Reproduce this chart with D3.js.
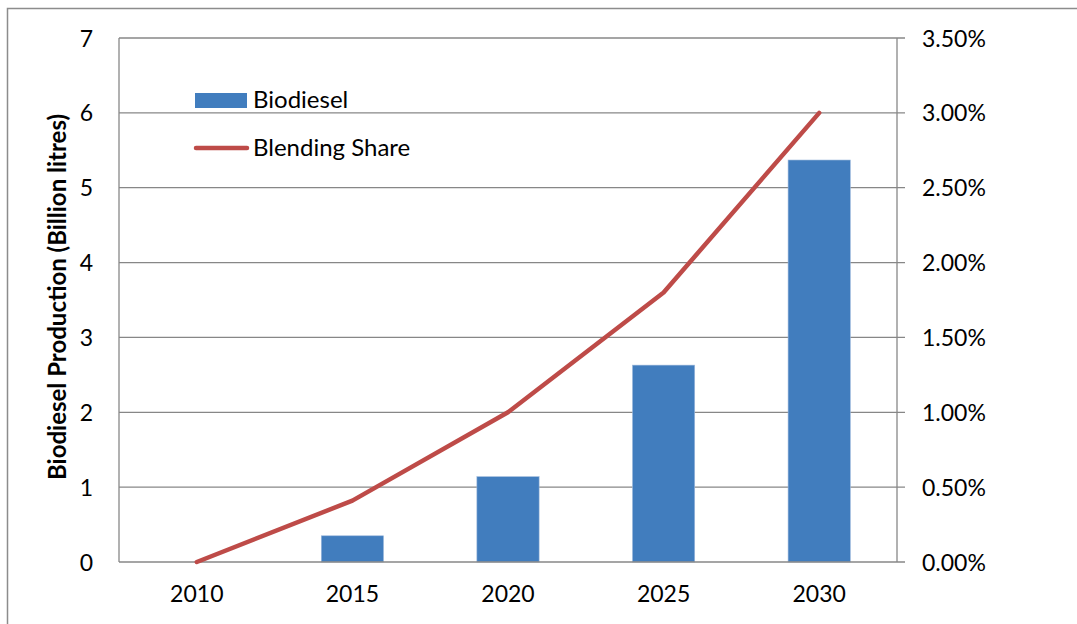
<!DOCTYPE html>
<html><head><meta charset="utf-8">
<script src="https://cdn.jsdelivr.net/npm/d3@7"></script>
<style>
html,body{margin:0;padding:0;background:#fff;}
svg text{font-family:Lato,"Open Sans",sans-serif;fill:#000;}
</style></head>
<body>
<svg id="c" width="1077" height="624"></svg>
<script>
const years = ["2010","2015","2020","2025","2030"];
const biodiesel = [0, 0.35, 1.14, 2.63, 5.37];
const blendingShare = [0.0, 0.0041, 0.0100, 0.0180, 0.0300];
const leftTicks = [0,1,2,3,4,5,6,7];
const rightTicks = [0,0.005,0.01,0.015,0.02,0.025,0.03,0.035];
const seriesNames = ["Biodiesel","Blending Share"];
const yTitle = "Biodiesel Production (Billion litres)";

const svg = d3.select("#c");
const L = 119, R = 897, T = 38, B = 562;
const grid = "#878787";
const barColor = "#417DBE";
const lineColor = "#BE4B48";

// outer frame
svg.append("rect").attr("x",7.5).attr("y",8.5).attr("width",1100).attr("height",700)
  .attr("fill","none").attr("stroke","#8c8c8c").attr("stroke-width",1.5);

const x = d3.scaleBand().domain(years).range([L,R]).paddingInner(0.6).paddingOuter(0.3);
const yL = d3.scaleLinear().domain([0,7]).range([B,T]);
const yR = d3.scaleLinear().domain([0,0.035]).range([B,T]);

// gridlines
svg.append("g").selectAll("line").data(leftTicks.filter(d=>d>0)).join("line")
  .attr("x1",L).attr("x2",R+8).attr("y1",d=>yL(d)).attr("y2",d=>yL(d))
  .attr("stroke",grid).attr("stroke-width",1.3);

// bars
svg.append("g").selectAll("rect").data(years).join("rect")
  .attr("x",d=>x(d)).attr("width",x.bandwidth())
  .attr("y",(d,i)=>yL(biodiesel[i])).attr("height",(d,i)=>B-yL(biodiesel[i]))
  .attr("fill",barColor).attr("stroke","#9db9dc").attr("stroke-width",0.6);

// axes lines
svg.append("line").attr("x1",L).attr("x2",L).attr("y1",T).attr("y2",B).attr("stroke",grid).attr("stroke-width",1.3);
svg.append("line").attr("x1",R).attr("x2",R).attr("y1",T).attr("y2",B).attr("stroke",grid).attr("stroke-width",1.3);
svg.append("line").attr("x1",L).attr("x2",R+8).attr("y1",B).attr("y2",B).attr("stroke",grid).attr("stroke-width",1.3);

// left axis
const la = svg.append("g").attr("transform",`translate(${L},0)`)
  .call(d3.axisLeft(yL).tickValues(leftTicks).tickSize(0).tickPadding(26).tickFormat(d3.format("d")));
la.select(".domain").remove();
la.selectAll("text").attr("font-size",23).attr("dy","0.35em");

// right axis
const ra = svg.append("g").attr("transform",`translate(${R},0)`)
  .call(d3.axisRight(yR).tickValues(rightTicks).tickSize(0).tickPadding(25).tickFormat(d3.format(".2%")));
ra.select(".domain").remove();
ra.selectAll("text").attr("font-size",23).attr("dy","0.35em");

// bottom axis
const ba = svg.append("g").attr("transform",`translate(0,${B})`)
  .call(d3.axisBottom(x).tickSize(0).tickPadding(24));
ba.select(".domain").remove();
ba.selectAll("text").attr("font-size",23);

// line
const line = d3.line().x((d,i)=>x(years[i])+x.bandwidth()/2).y(d=>yR(d));
svg.append("path").datum(blendingShare).attr("d",line)
  .attr("fill","none").attr("stroke",lineColor).attr("stroke-width",4.5)
  .attr("stroke-linejoin","round").attr("stroke-linecap","round");

// y title
svg.append("text").attr("transform","translate(66,297) rotate(-90)")
  .attr("text-anchor","middle").attr("font-size",24).attr("font-weight","bold").text(yTitle);

// legend
svg.append("rect").attr("x",195).attr("y",93).attr("width",52).attr("height",15).attr("fill",barColor);
svg.append("text").attr("x",253).attr("y",108).attr("font-size",24).text(seriesNames[0]);
svg.append("line").attr("x1",196).attr("x2",247).attr("y1",148).attr("y2",148)
  .attr("stroke",lineColor).attr("stroke-width",4.5).attr("stroke-linecap","round");
svg.append("text").attr("x",253).attr("y",156).attr("font-size",24).text(seriesNames[1]);
</script>
</body></html>
